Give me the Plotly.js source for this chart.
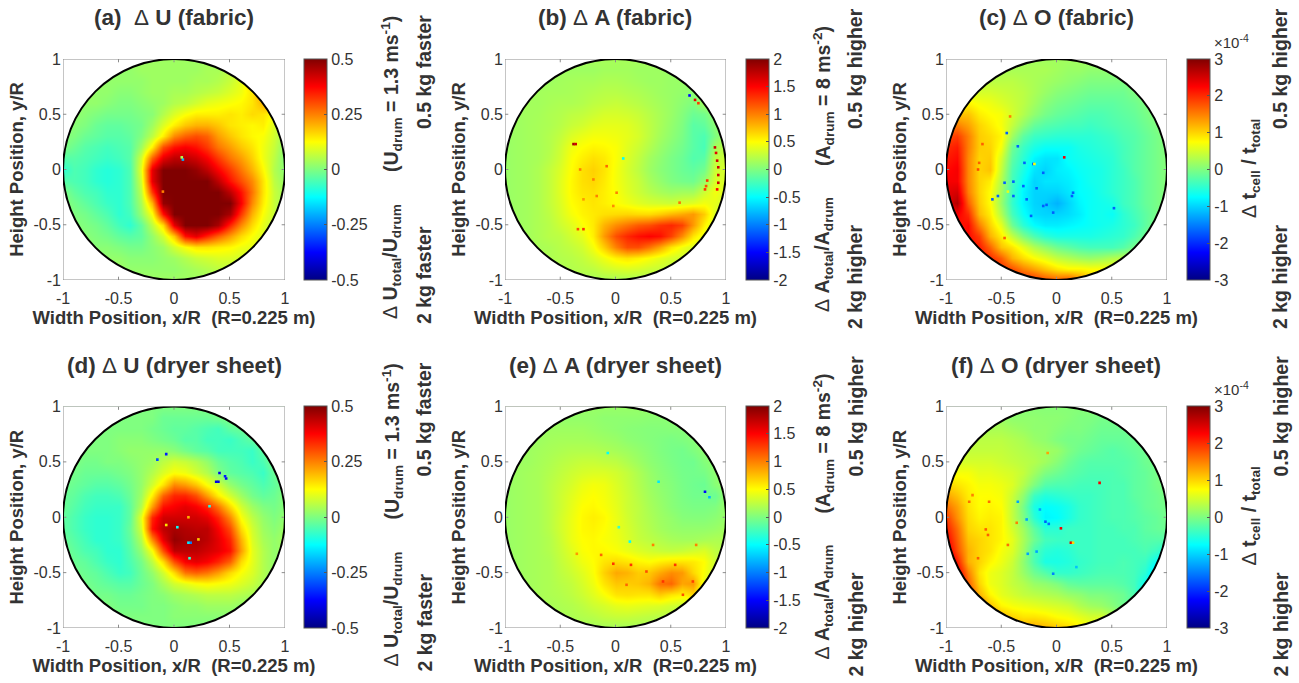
<!DOCTYPE html>
<html><head><meta charset="utf-8">
<script src="https://cdn.plot.ly/plotly-3.0.1.min.js"></script>
<style>html,body{margin:0;padding:0;background:#fff}#g{width:1299px;height:683px}</style>
</head><body><div id="g"></div>
<script>
// Grid nodes of every map. Map values are in hundredths of the colour-bar unit.
const gridX=[-1,-.9,-.8,-.7,-.6,-.5,-.4,-.3,-.2,-.1,0,.1,.2,.3,.4,.5,.6,.7,.8,.9,1];
const gridY=[1,.9,.8,.7,.6,.5,.4,.3,.2,.1,0,-.1,-.2,-.3,-.4,-.5,-.6,-.7,-.8,-.9,-1];
const mapA=[
[3,3,3,3,3,3,3,3,3,3,3,3,3,3,3,3,3,3,3,3,3],
[3,3,3,3,3,2,2,3,3,3,3,3,3,4,4,6,9,12,12,10,10],
[3,3,3,3,2,2,2,2,3,3,3,3,4,4,5,7,10,18,24,18,10],
[3,3,3,2,2,1,1,2,3,3,4,4,5,6,7,9,11,15,24,24,12],
[3,3,2,2,1,0,0,1,2,3,5,6,8,10,11,12,13,15,20,27,10],
[3,2,1,0,-1,-1,-1,0,1,5,9,12,14,14,14,15,14,16,15,12,8],
[2,1,0,-2,-3,-3,-2,-1,3,9,14,18,20,20,18,15,14,13,14,9,5],
[1,0,-2,-3,-4,-4,-3,0,6,14,24,28,30,28,22,18,15,13,12,8,3],
[0,-2,-4,-5,-6,-5,-4,3,14,30,36,38,36,32,26,22,18,15,11,7,1],
[-4,-4,-5,-6,-7,-6,-4,8,28,40,44,44,42,38,32,26,22,17,11,6,0],
[-8,-5,-6,-8,-9,-8,-5,10,40,50,50,50,48,44,38,32,26,20,13,5,1],
[-4,-5,-6,-8,-9,-8,-5,8,40,50,50,50,50,50,44,36,30,24,15,6,2],
[0,-3,-5,-6,-8,-8,-5,6,32,50,50,50,50,50,50,44,36,26,15,7,3],
[1,-1,-3,-5,-7,-8,-5,4,20,48,50,50,50,50,50,50,38,24,14,7,3],
[2,0,-1,-3,-5,-8,-6,2,12,36,50,50,50,50,50,46,32,20,12,7,3],
[3,1,0,-1,-3,-6,-8,-3,6,16,40,50,50,50,46,34,24,16,10,6,3],
[3,2,1,0,-1,-3,-4,-3,2,8,18,36,40,34,28,22,16,12,9,6,3],
[3,3,2,1,1,0,-1,-1,1,3,8,12,15,15,14,13,11,10,8,5,3],
[3,3,3,2,2,2,1,1,1,2,3,5,7,8,9,9,8,7,6,4,3],
[3,3,3,3,3,3,2,2,2,2,2,3,4,5,6,6,5,4,4,3,3],
[3,3,3,3,3,3,3,3,3,3,3,3,3,3,3,3,3,3,3,3,3]];
const mapB=[
[15,15,15,15,15,15,15,15,15,15,15,15,15,15,15,15,15,15,15,15,15],
[12,12,12,12,12,12,12,12,12,14,14,14,12,12,12,10,10,10,10,10,10],
[12,12,12,12,12,14,15,16,16,18,18,16,14,12,12,10,10,10,10,10,10],
[12,12,12,14,15,15,16,18,20,22,22,20,18,15,12,10,8,5,10,10,10],
[12,12,14,14,16,18,18,20,24,26,28,25,22,18,14,10,5,0,15,10,10],
[12,12,14,15,18,20,24,26,30,34,34,32,28,22,16,10,2,-8,-5,10,10],
[10,12,14,16,18,22,28,32,38,40,40,38,32,24,16,8,0,-15,-12,5,10],
[10,12,14,16,20,26,36,42,46,46,44,40,34,24,14,6,-2,-15,-20,0,15],
[10,12,14,16,20,30,44,50,54,52,48,38,30,20,10,2,-5,-15,-22,15,25],
[10,12,14,16,22,32,48,56,62,58,48,36,26,14,6,-2,-8,-18,-15,25,30],
[10,12,14,18,26,36,50,62,68,60,46,34,24,12,4,-2,-8,-12,-5,30,35],
[10,12,14,18,26,38,52,62,66,58,46,36,28,16,8,0,-4,-6,8,35,35],
[10,12,14,18,26,38,52,60,62,56,48,38,30,22,16,12,14,14,30,45,35],
[10,12,14,18,26,36,50,56,60,56,50,44,38,34,32,30,34,38,45,40,30],
[10,12,14,18,24,34,46,54,58,62,64,66,64,64,70,78,84,90,70,35,25],
[10,12,14,18,22,30,38,48,58,80,95,105,115,120,130,135,125,90,55,30,25],
[12,12,14,18,22,24,32,40,56,90,120,135,145,150,145,125,95,60,40,25,20],
[12,14,14,16,18,22,26,32,46,70,100,120,120,105,85,60,45,35,30,25,20],
[14,14,14,16,18,20,22,26,34,44,55,60,55,48,40,34,30,26,24,22,20],
[14,14,14,16,18,18,20,22,24,30,34,36,34,30,28,26,24,22,20,20,20],
[16,16,16,16,16,16,16,16,16,16,16,16,16,16,16,16,16,16,16,16,16]];
const mapC=[
[20,20,20,20,20,20,20,20,20,20,20,20,20,20,20,20,20,20,20,20,20],
[20,20,20,20,25,25,25,25,25,25,20,15,15,10,10,10,10,10,10,10,10],
[30,30,30,35,35,35,35,30,25,20,15,10,5,0,0,0,0,5,10,10,10],
[40,40,50,50,50,45,40,35,25,15,5,0,-5,-10,-10,-10,-10,0,5,10,10],
[60,70,80,70,65,55,45,35,20,5,-5,-10,-15,-20,-20,-20,-15,-10,0,10,10],
[100,110,110,85,75,70,50,30,10,-5,-15,-20,-25,-30,-30,-25,-20,-15,-5,5,10],
[150,150,130,100,85,70,40,10,-15,-25,-30,-35,-35,-40,-35,-30,-25,-20,-10,0,10],
[180,190,150,105,95,80,20,-20,-40,-45,-50,-50,-50,-50,-45,-40,-30,-25,-15,-5,5],
[200,210,150,105,100,70,-10,-40,-60,-70,-70,-70,-60,-55,-50,-45,-35,-25,-15,-5,5],
[210,220,145,100,105,50,-20,-50,-80,-90,-90,-70,-65,-60,-55,-50,-35,-25,-15,-5,5],
[220,230,145,100,110,40,-30,-60,-90,-100,-85,-80,-70,-65,-60,-50,-40,-25,-15,-5,5],
[230,230,145,100,85,30,-35,-70,-100,-90,-90,-85,-75,-65,-60,-50,-40,-30,-15,-5,5],
[240,250,150,100,75,20,-40,-80,-100,-100,-100,-90,-75,-70,-60,-50,-40,-30,-15,-5,5],
[240,270,170,105,75,15,-45,-80,-100,-105,-120,-100,-80,-70,-65,-60,-40,-30,-15,-5,5],
[200,230,200,115,85,30,-35,-70,-95,-100,-100,-95,-85,-70,-65,-70,-50,-35,-20,-5,5],
[180,210,220,150,100,60,-10,-50,-75,-85,-85,-80,-75,-70,-65,-60,-50,-40,-20,0,10],
[180,200,220,190,120,85,40,0,-30,-50,-60,-60,-60,-60,-55,-50,-45,-30,-10,10,20],
[180,200,220,210,165,110,90,60,30,10,-10,-20,-30,-35,-35,-35,-25,-5,15,30,40],
[180,200,220,220,200,170,120,95,75,60,40,30,20,15,20,30,35,40,50,50,50],
[180,200,220,220,220,200,180,150,130,110,90,80,80,75,75,70,70,60,60,50,50],
[200,220,220,220,220,220,220,210,200,180,170,180,150,110,80,70,60,60,50,50,50]];
const mapD=[
[0,0,0,0,0,0,0,0,0,0,0,0,0,0,0,0,0,0,0,0,0],
[0,0,0,0,0,0,0,0,0,-2,-2,-2,-2,-2,-1,0,0,0,0,0,0],
[0,0,0,0,0,0,0,0,-1,-2,-3,-3,-4,-5,-6,-3,-2,0,0,0,0],
[0,0,0,0,0,1,1,1,0,-1,-2,-4,-4,-6,-6,-7,-5,-3,0,0,0],
[0,0,0,0,0,1,2,2,2,2,1,-1,-3,-4,-6,-6,-6,-7,-3,0,0],
[0,0,-1,-1,0,0,1,2,3,6,8,7,5,2,-2,-4,-5,-7,-5,0,0],
[0,-1,-2,-2,-2,-1,0,2,5,9,12,11,8,5,0,-3,-4,-5,-7,-2,0],
[-1,-2,-3,-4,-4,-3,-1,2,8,15,24,22,18,12,8,2,-1,-3,-5,-3,0],
[-2,-3,-5,-6,-6,-5,-2,3,14,28,34,34,30,22,14,8,3,-1,-3,-2,1],
[-2,-4,-6,-7,-7,-7,-3,5,22,36,38,40,38,34,26,16,8,3,0,-1,1],
[-3,-5,-7,-8,-8,-7,-3,10,34,42,42,42,42,40,34,24,12,6,2,0,2],
[-3,-5,-7,-8,-8,-7,-2,8,36,44,46,45,44,44,38,30,16,8,3,1,3],
[-2,-4,-6,-8,-8,-7,-3,5,24,40,48,46,46,44,40,34,20,9,4,2,4],
[-1,-3,-5,-6,-8,-8,-4,2,12,30,44,44,44,42,40,36,22,10,5,2,3],
[0,-2,-3,-5,-7,-8,-5,-1,6,16,30,38,40,38,34,28,16,10,5,2,3],
[0,-1,-2,-3,-5,-7,-6,-2,2,8,16,26,28,26,22,16,12,9,5,2,2],
[0,0,-1,-2,-3,-4,-4,-2,0,4,8,10,12,13,12,11,9,7,4,1,1],
[0,0,0,-1,-1,-2,-2,-1,0,1,3,4,5,6,6,6,5,4,2,1,1],
[0,0,0,0,0,-1,-1,-1,0,0,1,2,2,3,3,3,2,1,1,0,0],
[0,0,0,0,0,0,0,0,0,0,1,1,1,1,1,1,1,0,0,0,0],
[0,0,0,0,0,0,0,0,0,0,0,0,0,0,0,0,0,0,0,0,0]];
const mapE=[
[10,10,10,10,10,10,10,10,10,10,10,10,10,10,10,10,10,10,10,10,10],
[10,10,10,10,10,8,8,8,8,6,6,6,6,5,5,5,6,8,10,10,10],
[10,10,10,10,12,12,12,12,10,8,6,4,3,2,2,3,3,5,8,10,10],
[10,10,10,12,14,15,15,15,14,12,10,6,4,2,0,-2,0,3,8,10,10],
[10,10,12,14,16,18,20,20,20,18,15,12,8,4,0,-3,-5,0,6,10,10],
[10,12,12,15,18,22,25,28,28,26,24,18,12,6,2,-2,-5,-6,2,8,10],
[10,12,14,16,20,25,30,34,36,36,32,26,18,10,4,0,-4,-5,-3,6,10],
[10,12,14,16,22,28,34,42,46,44,36,28,20,12,6,2,-3,-6,-8,4,10],
[10,12,14,16,22,30,38,46,50,46,38,30,22,14,8,3,-2,-5,-5,-8,10],
[10,12,14,16,22,30,40,50,52,48,40,30,24,16,10,4,0,-2,-2,0,10],
[10,12,14,16,22,32,42,52,56,52,42,32,24,18,12,8,3,2,2,5,10],
[10,12,14,16,22,32,42,52,54,50,42,34,26,20,14,10,8,8,8,10,14],
[10,12,14,16,20,30,42,50,52,48,44,36,28,24,20,16,14,14,16,18,18],
[10,12,14,16,20,28,38,48,52,52,48,42,36,32,28,26,28,32,36,25,20],
[10,12,14,16,18,26,34,44,50,60,64,60,54,50,56,60,60,58,50,30,20],
[10,12,14,16,18,24,30,38,48,68,84,80,70,72,84,95,90,65,48,28,20],
[12,12,14,16,18,22,26,34,44,60,72,70,72,80,105,110,85,90,40,25,20],
[12,14,14,16,18,20,24,30,38,48,60,62,60,60,70,60,55,65,30,22,18],
[12,14,14,16,16,18,20,24,30,34,40,42,40,38,36,32,28,24,20,18,16],
[12,12,14,14,16,16,18,20,22,26,28,28,26,24,22,20,18,16,14,14,14],
[14,14,14,14,14,14,14,14,14,14,14,14,14,14,14,14,14,14,14,14,14]];
const mapF=[
[5,5,5,5,5,5,5,5,5,5,5,5,5,5,5,5,5,5,5,5,5],
[10,10,10,10,15,15,10,10,10,8,8,5,0,0,-5,-5,-5,0,0,0,0],
[25,25,25,25,25,25,20,15,10,10,5,0,0,-5,-10,-10,-10,-5,0,0,0],
[30,30,35,35,35,35,30,25,15,10,0,-5,-5,-10,-15,-15,-15,-10,-5,0,0],
[40,40,40,40,40,40,35,30,25,20,15,0,-10,-15,-20,-25,-20,-15,-10,0,0],
[50,50,50,50,50,45,40,35,30,20,5,-10,-20,-25,-25,-25,-25,-20,-10,-5,0],
[70,70,70,60,60,55,50,40,20,0,-10,-20,-25,-30,-30,-30,-25,-20,-15,-5,0],
[100,90,80,70,70,65,55,30,0,-25,-30,-30,-35,-35,-35,-30,-30,-20,-15,-5,0],
[130,110,85,75,75,70,45,10,-40,-55,-50,-45,-40,-40,-35,-30,-30,-20,-15,-10,0],
[160,130,90,75,80,75,40,-5,-60,-75,-70,-60,-45,-40,-35,-30,-30,-25,-15,-10,-5],
[190,140,95,80,85,80,40,0,-50,-80,-75,-60,-45,-40,-35,-30,-30,-25,-20,-15,-5],
[210,160,100,90,90,80,50,20,-20,-50,-50,-40,-40,-40,-35,-35,-30,-30,-20,-15,-10],
[230,170,110,100,90,80,60,25,-10,-35,-40,-40,-40,-40,-35,-35,-35,-30,-25,-25,-25],
[250,180,120,100,90,70,55,20,-30,-50,-55,-50,-40,-40,-35,-35,-35,-35,-30,-40,-60],
[280,210,120,100,80,65,45,10,-30,-60,-60,-55,-45,-40,-35,-35,-30,-35,-40,-70,-100],
[280,240,150,90,65,55,40,15,-10,-25,-45,-45,-40,-35,-30,-30,-30,-35,-50,-100,-120],
[280,280,170,100,65,55,40,30,15,10,0,-15,-20,-20,-20,-20,-25,-35,-70,-120,-120],
[250,280,200,120,80,60,50,40,35,30,25,15,10,0,0,-5,-10,-30,-90,-120,-120],
[200,200,200,170,110,80,70,65,60,55,50,45,30,20,15,5,-10,-25,-60,-80,-80],
[180,180,180,170,160,120,100,90,90,85,75,70,60,50,50,30,10,-10,-20,-30,-30],
[150,150,150,150,150,150,140,130,130,120,110,100,85,70,50,40,30,10,0,0,0]];
// Isolated outlier cells: x/R, y/R and value (same hundredths).
const spotsAx=[.08,.07,-.1]; const spotsAy=[.09,.11,-.2]; const spotsAv=[-20,5,25];
const spotsBx=[-.38,-.36,.07,.67,.72,.75,.9,.91,.92,.93,.93,.93,.92,.83,.82,-.29,-.34,-.17,-.32,-.08,-.2,-.29,.01,-.02,.81,.58];
const spotsBy=[.23,.23,.1,.67,.63,.6,.2,.15,.08,.02,-.05,-.12,-.18,-.1,-.15,-.54,-.54,-.24,0,.03,-.09,-.27,-.21,-.33,-.18,-.3];
const spotsBv=[185,170,-50,-150,160,130,170,160,170,170,170,170,150,130,120,130,120,100,100,110,100,90,100,95,130,105];
const spotsCx=[.07,-.47,-.39,-.29,-.12,-.21,-.3,-.18,-.12,-.09,-.27,-.39,-.53,-.58,-.23,-.03,.14,.15,.52,-.35,-.45,-.2,-.44,-.7,-.71,-.67,-.47,-.42];
const spotsCy=[.11,-.12,-.11,.06,-.03,.05,-.15,-.17,-.33,-.32,-.27,-.24,-.24,-.27,-.42,-.39,-.24,-.21,-.35,.21,.33,.05,-.2,.06,0,.23,-.62,.48];
const spotsCv=[230,-170,-170,-170,-170,-170,-170,-170,-170,-170,-170,-170,-170,-170,-170,-170,-170,-170,-170,-170,-170,75,60,170,180,170,170,150];
const spotsDx=[-.07,-.15,.41,.38,.4,.47,.46,.15,.13,.03,.32,.13,-.07,.22,.14];
const spotsDy=[.57,.52,.4,.32,.32,.35,.37,-.23,-.23,-.09,.1,0,-.07,-.2,-.37];
const spotsDv=[-35,-30,-40,-40,-40,-38,-35,-25,-15,-12,-10,20,15,18,-8];
const spotsEx=[.39,.81,.85,.13,.03,-.07,-.02,.14,-.13,.34,.73,.61,.1,.28,.54,.43,.7,-.35];
const spotsEy=[.32,.23,.18,-.22,-.09,.58,-.42,-.43,-.34,-.25,-.25,-.7,-.61,-.49,-.43,-.58,-.58,-.33];
const spotsEv=[-60,-150,-80,-50,-30,-50,130,130,110,100,100,120,110,120,130,130,125,90];
const spotsFx=[.39,.04,.13,.15,-.1,-.07,-.35,-.27,-.15,-.26,-.03,.18,-.18,-.64,-.62,-.71,-.44,-.36,-.08,-.79,-.61,-.76];
const spotsFy=[.31,-.1,-.23,-.23,-.04,-.06,.14,-.02,.07,-.33,-.51,-.45,-.31,-.11,-.16,-.37,-.25,-.05,.58,.14,.14,.2];
const spotsFv=[230,230,240,100,-170,-160,-130,-130,-130,-130,-150,-110,-130,170,170,170,160,150,130,160,160,150];

const axisTickVals=[-1,-.5,0,.5,1];
const axisTickText=['-1','-0.5','0','0.5','1'];
const barUVals=[-.5,-.25,0,.25,.5]; const barUText=['-0.5','-0.25','0','0.25','0.5'];
const barAVals=[-2,-1.5,-1,-.5,0,.5,1,1.5,2]; const barAText=['-2','-1.5','-1','-0.5','0','0.5','1','1.5','2'];
const barOVals=[-3,-2,-1,0,1,2,3]; const barOText=['-3','-2','-1','0','1','2','3'];

const jet=[[0,'rgb(0,0,131)'],[.125,'rgb(0,0,255)'],[.375,'rgb(0,255,255)'],[.625,'rgb(255,255,0)'],[.875,'rgb(255,0,0)'],[1,'rgb(128,0,0)']];
const W=1299,H=683;
const SANS='"Liberation Sans",Arial,sans-serif', INK='#333333', BOX='#8c8c8c';
const cols=[{l:63,r:285,cb:304,tx:174,c1:392,c2:424},{l:505,r:726,cb:745.5,tx:615,c1:823,c2:855},{l:946,r:1167,cb:1187,tx:1056,c1:1250,c2:1280}];
const rows=[{t:59,b:280,ty:17},{t:406.5,b:628,ty:365}];
const panels=[
 {m:mapA,sx:spotsAx,sy:spotsAy,sv:spotsAv,c:0,r:0,max:.5,tv:barUVals,tt:barUText,title:'<b>(a)  </b>Δ<b> U (fabric)</b>',kind:'U'},
 {m:mapB,sx:spotsBx,sy:spotsBy,sv:spotsBv,c:1,r:0,max:2,tv:barAVals,tt:barAText,title:'<b>(b) </b>Δ<b> A (fabric)</b>',kind:'A'},
 {m:mapC,sx:spotsCx,sy:spotsCy,sv:spotsCv,c:2,r:0,max:3,tv:barOVals,tt:barOText,title:'<b>(c) </b>Δ<b> O (fabric)</b>',kind:'O'},
 {m:mapD,sx:spotsDx,sy:spotsDy,sv:spotsDv,c:0,r:1,max:.5,tv:barUVals,tt:barUText,title:'<b>(d) </b>Δ<b> U (dryer sheet)</b>',kind:'U'},
 {m:mapE,sx:spotsEx,sy:spotsEy,sv:spotsEv,c:1,r:1,max:2,tv:barAVals,tt:barAText,title:'<b>(e) </b>Δ<b> A (dryer sheet)</b>',kind:'A'},
 {m:mapF,sx:spotsFx,sy:spotsFy,sv:spotsFv,c:2,r:1,max:3,tv:barOVals,tt:barOText,title:'<b>(f) </b>Δ<b> O (dryer sheet)</b>',kind:'O'}];
const k=.5523;
const maskPath='M -1.02 -1.02 L 1.02 -1.02 L 1.02 1.02 L -1.02 1.02 Z M 1 0 C 1 '+k+' '+k+' 1 0 1 C '+(-k)+' 1 -1 '+k+' -1 0 C -1 '+(-k)+' '+(-k)+' -1 0 -1 C '+k+' -1 1 '+(-k)+' 1 0 Z';
const traces=[],layout={width:W,height:H,margin:{l:0,r:0,t:0,b:0},paper_bgcolor:'#fff',plot_bgcolor:'#fff',showlegend:false,shapes:[],annotations:[],font:{family:SANS,color:INK}};
function note(text,x,y,size,angle,anchor){layout.annotations.push({text:text,xref:'paper',yref:'paper',x:x/W,y:1-y/H,showarrow:false,textangle:angle||0,xanchor:anchor||'center',yanchor:'middle',font:{family:SANS,size:size,color:INK}});}
panels.forEach((p,i)=>{
 const C=cols[p.c],R=rows[p.r],n=i+1,xa='xaxis'+(n>1?n:''),ya='yaxis'+(n>1?n:''),xr='x'+(n>1?n:''),yr='y'+(n>1?n:'');
 traces.push({type:'heatmap',x:gridX,y:gridY,z:p.m.map(r=>r.map(v=>v/100)),xaxis:xr,yaxis:yr,zsmooth:'best',zmin:-p.max,zmax:p.max,colorscale:jet,hoverinfo:'skip',
  colorbar:{x:C.cb/W,xanchor:'left',xpad:0,ypad:0,y:1-R.b/H,yanchor:'bottom',len:(R.b-R.t),lenmode:'pixels',thickness:23,thicknessmode:'pixels',outlinecolor:'#555',outlinewidth:1,ticks:'inside',ticklen:3,tickcolor:'#555',tickvals:p.tv,ticktext:p.tt,tickfont:{family:SANS,size:16,color:INK}}});
 traces.push({type:'scatter',mode:'markers',x:p.sx,y:p.sy,xaxis:xr,yaxis:yr,hoverinfo:'skip',marker:{symbol:'square',size:2.6,color:p.sv.map(v=>v/100),cmin:-p.max,cmax:p.max,colorscale:jet,showscale:false}});
 const common={range:[-1,1],tickvals:axisTickVals,ticktext:axisTickText,ticks:'',showgrid:false,zeroline:false,showline:false,tickfont:{family:SANS,size:16,color:INK},fixedrange:true};
 layout[xa]=Object.assign({},common,{domain:[C.l/W,C.r/W],anchor:yr,ticklabelstandoff:7,title:{text:'<b>Width Position, x/R\u00a0\u00a0(R=0.225 m)</b>',font:{family:SANS,size:18.5,color:INK},standoff:3}});
 layout[ya]=Object.assign({},common,{domain:[1-R.b/H,1-R.t/H],anchor:xr,ticklabelstandoff:1,title:{text:'<b>Height Position, y/R</b>',font:{family:SANS,size:18.5,color:INK},standoff:4}});
 layout.shapes.push({type:'path',xref:xr,yref:yr,path:maskPath,fillcolor:'#fff',line:{width:0},layer:'above'});
 layout.shapes.push({type:'rect',xref:xr,yref:yr,x0:-1,x1:1,y0:-1,y1:1,line:{color:BOX,width:1},layer:'above'});
 axisTickVals.slice(1,4).forEach(t=>{
  [[t,t,-1,-.97],[t,t,1,.97],[-1,-.97,t,t],[1,.97,t,t]].forEach(s=>layout.shapes.push({type:'line',xref:xr,yref:yr,x0:s[0],x1:s[1],y0:s[2],y1:s[3],line:{color:BOX,width:1},layer:'above'}));
 });
 layout.shapes.push({type:'circle',xref:xr,yref:yr,x0:-1,x1:1,y0:-1,y1:1,line:{color:'#000',width:2},layer:'above'});
 note(p.title,C.tx,R.ty,22.5);
 const dy=p.r?347.5:0;
 if(p.kind==='U'){
  note('<b>(U<sub>drum</sub> = 1.3 ms<sup>-1</sup>)</b>',C.c1,94+dy,19.5,-90);
  note('Δ<b> U<sub>total</sub>/U<sub>drum</sub></b>',C.c1,262+dy,19.5,-90);
  note('<b>0.5 kg faster</b>',C.c2,72+dy,19.5,-90);
  note('<b>2 kg faster</b>',C.c2,275+dy,19.5,-90);
 } else if(p.kind==='A'){
  note('<b>(A<sub>drum</sub> = 8 ms<sup>-2</sup>)</b>',C.c1,96+dy,19.5,-90);
  note('Δ<b> A<sub>total</sub>/A<sub>drum</sub></b>',C.c1,255+dy,19.5,-90);
  note('<b>0.5 kg higher</b>',C.c2,69+dy,19.5,-90);
  note('<b>2 kg higher</b>',C.c2,277+dy,19.5,-90);
 } else {
  note('Δ<b> t<sub>cell</sub> / t<sub>total</sub></b>',C.c1,169+dy,19.5,-90);
  note('<b>0.5 kg higher</b>',C.c2,69+dy,19.5,-90);
  note('<b>2 kg higher</b>',C.c2,277+dy,19.5,-90);
  note('×10<sup>-4</sup>',1212,41+dy,15,0,'left');
 }
});
Plotly.newPlot('g',traces,layout,{displayModeBar:false,staticPlot:true});
</script></body></html>
